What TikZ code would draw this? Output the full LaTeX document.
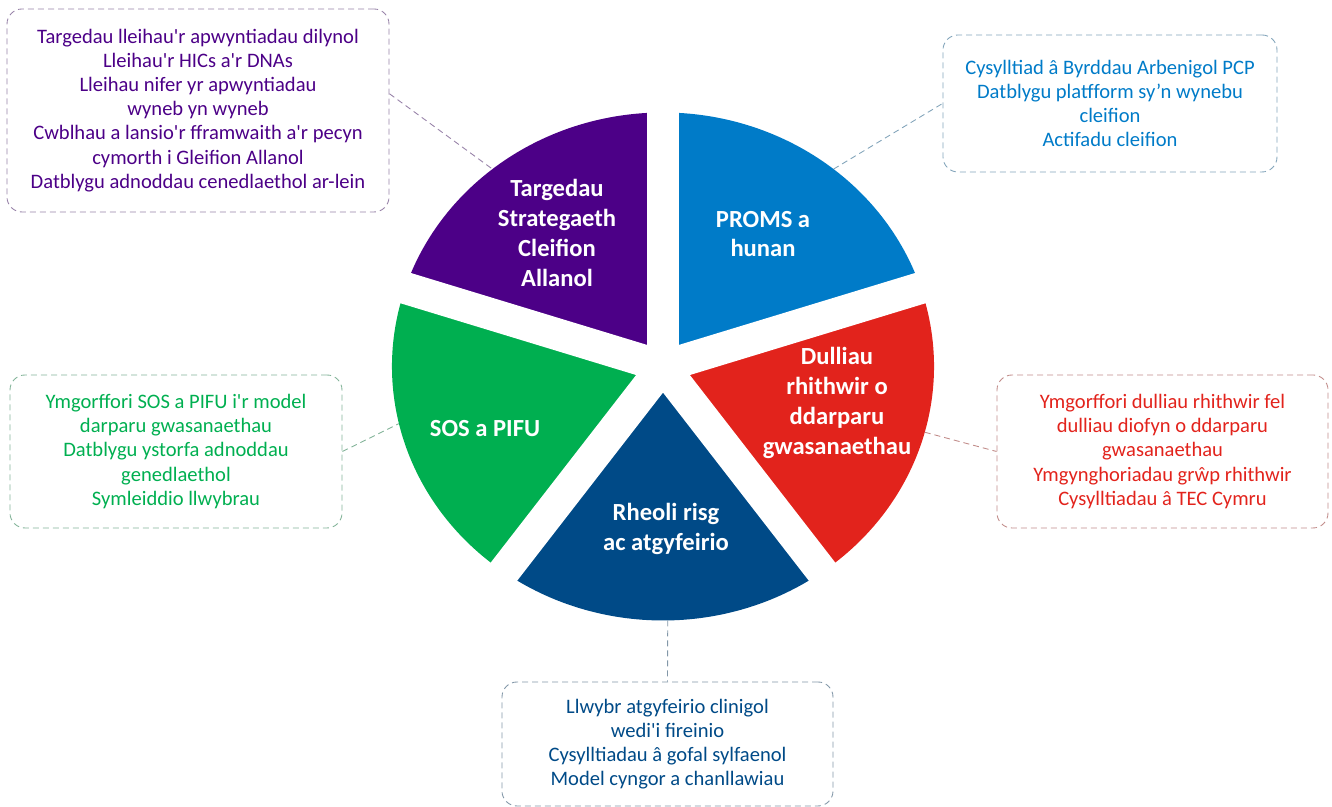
\documentclass[tikz,border=0pt]{standalone}
\usepackage{fontspec}
\setmainfont{Carlito}
\definecolor{purp}{RGB}{76,0,135}
\definecolor{skyb}{RGB}{0,123,200}
\definecolor{redd}{RGB}{226,35,28}
\definecolor{grn}{RGB}{0,175,80}
\definecolor{navy}{RGB}{0,74,135}
\newcommand{\ap}{\textquotesingle}
\begin{document}
\begin{tikzpicture}[x=0.2mm,y=0.2mm,
  wedgelabel/.style={text=white,font=\fontsize{14}{17}\selectfont\bfseries,align=center},
  infobox/.style={draw=#1!40!gray!70,dash pattern=on 1.2mm off 0.8mm,line width=0.5pt,
    rounded corners=3mm,text=#1,font=\fontsize{11.7}{13.7}\selectfont,align=center},
  link/.style={draw=#1!40!gray!70,dash pattern=on 1.2mm off 0.8mm,line width=0.5pt}]
\useasboundingbox (0,0) rectangle (1332,807);

%PIE
\pgfmathsetmacro{\rad}{254}
\begin{scope}[shift={(663,440.5)},xscale=1.067]
  \fill[skyb] (0,0) -- (18:\rad) arc[start angle=18,end angle=90,radius=\rad] -- cycle;
  \fill[purp] (0,0) -- (90:\rad) arc[start angle=90,end angle=162,radius=\rad] -- cycle;
  \fill[grn] (0,0) -- (162:\rad) arc[start angle=162,end angle=234,radius=\rad] -- cycle;
  \fill[navy] (0,0) -- (234:\rad) arc[start angle=234,end angle=306,radius=\rad] -- cycle;
  \fill[redd] (0,0) -- (306:\rad) arc[start angle=306,end angle=378,radius=\rad] -- cycle;
  \foreach \a in {18,90,162,234,306}
    \draw[white,line width=6.4mm] (0,0) -- (\a:280);
  \coordinate (purpArc) at (129:\rad);
  \coordinate (skybArc) at (51:\rad);
  \coordinate (grnArc) at (193:\rad);
  \coordinate (reddArc) at (345:\rad);
  \coordinate (navyArc) at (271:\rad);
\end{scope}

  \node (tgtLabel) at (557,574) [wedgelabel] {Targedau\\Strategaeth\\Cleifion\\Allanol};
  \node (promsLabel) at (763,573) [wedgelabel] {PROMS a\\hunan};
  \node (virtLabel) at (837,404) [wedgelabel] {Dulliau\\rhithwir o\\ddarparu\\gwasanaethau};
  \node (sosLabel) at (485,378.5) [wedgelabel] {SOS a PIFU};
  \node (riskLabel) at (666,278) [wedgelabel] {Rheoli risg\\ac atgyfeirio};

%BOXES
  \node (tgtBox) at (198,696.5) [infobox=purp,minimum width=76.4mm,minimum height=40.6mm]
    {Targedau lleihau\ap r apwyntiadau dilynol\\Lleihau\ap r HICs a\ap r DNAs\\
     Lleihau nifer yr apwyntiadau\\wyneb yn wyneb\\
     Cwblhau a lansio\ap r fframwaith a\ap r pecyn\\cymorth i Gleifion Allanol\\
     Datblygu adnoddau cenedlaethol ar-lein};
  \node (promsBox) at (1110,703.5) [infobox=skyb,minimum width=66.8mm,minimum height=27.4mm]
    {Cysylltiad â Byrddau Arbenigol PCP\\Datblygu platfform sy’n wynebu\\cleifion\\Actifadu cleifion};
  \node (virtBox) at (1162.5,355.5) [infobox=redd,minimum width=66.2mm,minimum height=30.6mm]
    {Ymgorffori dulliau rhithwir fel\\dulliau diofyn o ddarparu\\gwasanaethau\\
     Ymgynghoriadau grŵp rhithwir\\Cysylltiadau â TEC Cymru};
  \node (sosBox) at (176,355.5) [infobox=grn,minimum width=66.4mm,minimum height=30.6mm]
    {Ymgorffori SOS a PIFU i\ap r model\\darparu gwasanaethau\\Datblygu ystorfa adnoddau\\
     genedlaethol\\Symleiddio llwybrau};
  \node (riskBox) at (667.5,63) [infobox=navy,minimum width=66.2mm,minimum height=24.8mm]
    {Llwybr atgyfeirio clinigol\\wedi\ap i fireinio\\Cysylltiadau â gofal sylfaenol\\Model cyngor a chanllawiau};

%LINKS
  \draw[link=purp] (tgtBox.5) -- (purpArc);
  \draw[link=skyb] (skybArc) -- (promsBox.west);
  \draw[link=grn] (sosBox.east) -- (grnArc);
  \draw[link=redd] (reddArc) -- (virtBox.west);
  \draw[link=navy] (navyArc) -- (riskBox.north);
\end{tikzpicture}
\end{document}
